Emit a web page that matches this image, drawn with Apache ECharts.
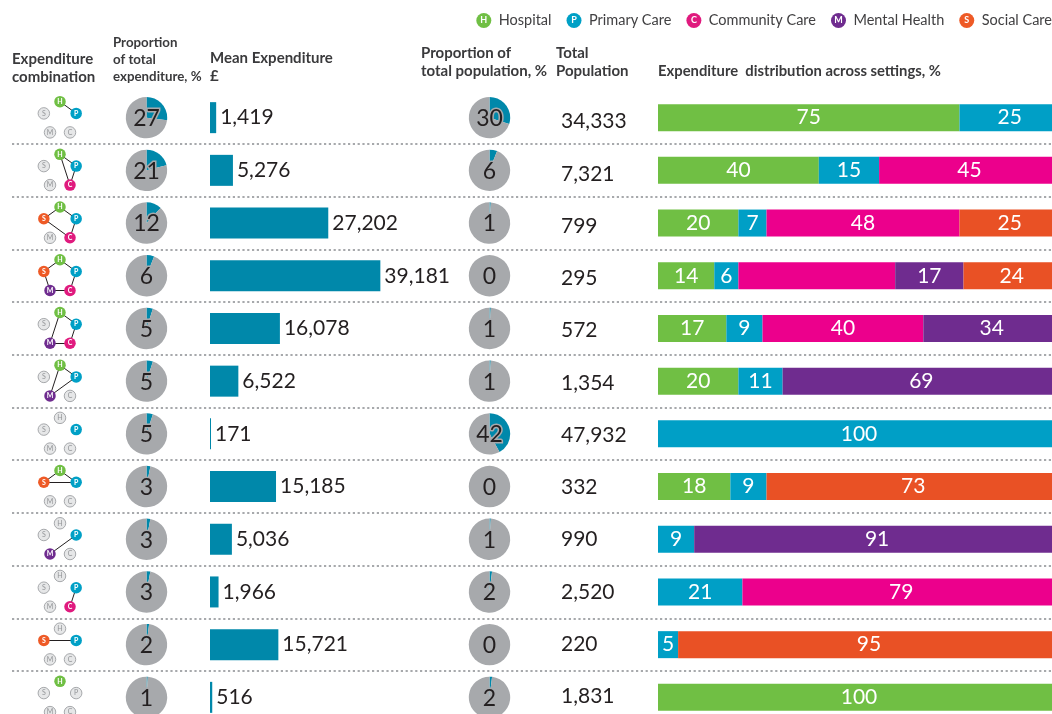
<!DOCTYPE html>
<html>
<head>
<meta charset="utf-8">
<style>
  html, body { margin: 0; padding: 0; background: #fff; }
  #chart { width: 1052px; height: 714px; }
</style>
<script src="https://cdn.jsdelivr.net/npm/echarts@6/dist/echarts.min.js"></script>
</head>
<body>
<div id="chart"></div>
<script>
// links between settings for each row, the letters not named stay grey
const combinations = ['HP', 'HPC', 'HPCS', 'HPCMS', 'HPCM', 'HPM', 'P', 'HPS', 'PM', 'PC', 'PS', 'H']
const combinationLinks = [
  ['HP'],
  ['HP', 'PC', 'HC'],
  ['SH', 'HP', 'PC', 'SC'],
  ['SH', 'HP', 'PC', 'CM', 'MS'],
  ['HP', 'PC', 'CM', 'MH'],
  ['HP', 'PM', 'MH'],
  [],
  ['SH', 'HP', 'SP'],
  ['PM'],
  ['PC'],
  ['SP'],
  []
]
const expenditureShare = [27, 21, 12, 6, 5, 5, 5, 3, 3, 3, 2, 1]
const meanExpenditure = [1419, 5276, 27202, 39181, 16078, 6522, 171, 15185, 5036, 1966, 15721, 516]
const populationShare = [30, 6, 1, 0, 1, 1, 42, 0, 1, 2, 0, 2]
const totalPopulation = [34333, 7321, 799, 295, 572, 1354, 47932, 332, 990, 2520, 220, 1831]

const hospital = [75, 40, 20, 14, 17, 20, null, 18, null, null, null, 100]
const primaryCare = [25, 15, 7, 6, 9, 11, 100, 9, 9, 21, 5, null]
const communityCare = [null, 45, 48, 39, 40, null, null, null, null, 79, null, null]
const mentalHealth = [null, null, null, 17, 34, 69, null, null, 91, null, null, null]
const socialCare = [null, null, 25, 24, null, null, null, 73, null, null, 95, null]

const settingNames = { H: 'Hospital', P: 'Primary Care', C: 'Community Care', M: 'Mental Health', S: 'Social Care' }
const settingColors = { H: '#70BF44', P: '#009FC6', C: '#EC008C', M: '#6F2C8F', S: '#E95125' }
const nodeColors = { H: '#70BF44', P: '#00A0C6', C: '#E01A7E', M: '#6F2C8F', S: '#EE5A26' }

const rowTop = 91.3
const rowHeight = 52.7
const rowCount = combinations.length
const rowY = i => rowTop + rowHeight * (i + 0.5)
const rowIds = combinations.map((c, i) => i)

const chart = echarts.init(document.getElementById('chart'))

// network icons, the five settings sit on a pentagon
const slots = ['H', 'P', 'C', 'M', 'S']
const nodeRadius = 17
const graphNodes = []
const graphLinks = []
combinations.forEach((combo, row) => {
  slots.forEach((letter, k) => {
    const angle = (-90 + 72 * k) * Math.PI / 180
    const active = combo.includes(letter)
    graphNodes.push({
      name: row + letter,
      value: [Math.cos(angle) * nodeRadius, row + Math.sin(angle) * nodeRadius / rowHeight + 0.5],
      symbolSize: 11.5,
      itemStyle: active
        ? { color: nodeColors[letter] }
        : { color: '#E6E7E8', borderColor: '#A7A9AC', borderWidth: 1 },
      label: {
        show: true,
        formatter: letter,
        fontSize: 7,
        fontWeight: active ? 'bold' : 'normal',
        color: active ? '#fff' : '#939598'
      }
    })
  })
  combinationLinks[row].forEach(pair => {
    graphLinks.push({ source: row + pair[0], target: row + pair[1] })
  })
})

function pieSeries (values, centerX) {
  return values.map((v, i) => ({
    type: 'pie',
    silent: true,
    animation: false,
    radius: 20.7,
    center: [centerX, rowY(i)],
    startAngle: 90,
    clockwise: true,
    labelLine: { show: false },
    data: [
      { value: v, itemStyle: { color: '#0088AA' }, label: { show: false } },
      {
        value: 100 - v,
        itemStyle: { color: '#A7A9AC' },
        label: {
          show: true,
          position: 'center',
          formatter: String(v),
          fontSize: 23,
          offset: [0, 1],
          color: '#231F20',
          textBorderColor: '#A7A9AC',
          textBorderWidth: 3
        }
      }
    ]
  }))
}

function stackedSeries (letter, values) {
  return {
    name: settingNames[letter],
    type: 'bar',
    stack: 'settings',
    xAxisIndex: 1,
    yAxisIndex: 1,
    barWidth: 27,
    silent: true,
    animation: false,
    itemStyle: { color: settingColors[letter] },
    label: {
      show: true,
      position: 'inside',
      fontSize: 21,
      color: '#fff',
      // the community care segment of row 4 has no number in the source
      formatter: p => (letter === 'C' && p.dataIndex === 3 ? '' : p.value)
    },
    data: values
  }
}

const legendRich = {}
slots.forEach(letter => {
  legendRich[letter] = {
    width: 15,
    height: 15,
    lineHeight: 15,
    align: 'center',
    borderRadius: 8,
    backgroundColor: nodeColors[letter],
    color: '#fff',
    fontSize: 9,
    fontWeight: 'bold'
  }
})

function header (text, left, top, fontSize) {
  return {
    text,
    left,
    top,
    padding: 0,
    textStyle: { fontSize, lineHeight: fontSize < 14 ? 17 : 18, fontWeight: 'bold', color: '#3a3a3c', fontFamily: 'Lato' }
  }
}

const hiddenAxis = { show: false }
const gridBase = { top: rowTop, height: rowHeight * rowCount, outerBoundsMode: 'none' }

chart.setOption({
  backgroundColor: '#fff',
  animation: false,
  textStyle: { fontFamily: 'Lato' },
  title: [
    header('Expenditure\ncombination', 12, 50, 15),
    header('Proportion\nof total\nexpenditure, %', 113, 34, 13.3),
    header('Mean Expenditure\n£', 210, 49, 15),
    header('Proportion of\ntotal population, %', 421, 44, 15),
    header('Total\nPopulation', 556, 44, 15),
    header('Expenditure  distribution across settings, %', 658, 62, 14.8)
  ],
  legend: {
    right: 0,
    top: 13,
    icon: 'circle',
    itemWidth: 0,
    itemHeight: 0,
    itemGap: 10,
    selectedMode: false,
    padding: 0,
    data: slots.map(l => settingNames[l]),
    formatter: name => {
      const letter = slots.find(l => settingNames[l] === name)
      return '{' + letter + '|' + letter + '}  ' + name
    },
    textStyle: { fontSize: 14.5, color: '#414042', rich: legendRich }
  },
  grid: [
    { ...gridBase, left: 210, width: 200 },
    { ...gridBase, left: 658, width: 402 },
    { ...gridBase, left: 30, width: 60, top: rowTop + 1 },
    { ...gridBase, left: 12, width: 1040 },
    // the population column runs on a slightly tighter pitch in the source
    { left: 561, width: 80, top: 95.5, height: 52.25 * rowCount, outerBoundsMode: 'none' }
  ],
  xAxis: [
    { type: 'value', gridIndex: 0, min: 0, max: 46000, ...hiddenAxis },
    { type: 'value', gridIndex: 1, min: 0, max: 100, ...hiddenAxis },
    { type: 'value', gridIndex: 2, min: -30, max: 30, ...hiddenAxis },
    { type: 'value', gridIndex: 3, min: 0, max: 1, ...hiddenAxis },
    { type: 'value', gridIndex: 4, min: 0, max: 1, ...hiddenAxis }
  ],
  yAxis: [
    { type: 'category', gridIndex: 0, inverse: true, data: combinations, ...hiddenAxis },
    { type: 'category', gridIndex: 1, inverse: true, data: combinations, ...hiddenAxis },
    { type: 'value', gridIndex: 2, inverse: true, min: 0, max: rowCount, ...hiddenAxis },
    {
      type: 'category',
      gridIndex: 3,
      inverse: true,
      data: rowIds,
      axisLine: { show: false },
      axisTick: { show: false },
      axisLabel: { show: false },
      splitLine: {
        show: true,
        interval: 0,
        showMinLine: false,
        showMaxLine: false,
        lineStyle: { color: '#A7A9AC', width: 2.2, type: [2.2, 2.6] }
      }
    },
    {
      type: 'category',
      gridIndex: 4,
      inverse: true,
      data: totalPopulation.map(v => v.toLocaleString('en-US')),
      axisLine: { show: false },
      axisTick: { show: false },
      splitLine: { show: false },
      axisLabel: { inside: true, margin: 0, interval: 0, fontSize: 21, color: '#231F20' }
    }
  ],
  series: [
    {
      type: 'graph',
      coordinateSystem: 'cartesian2d',
      xAxisIndex: 2,
      yAxisIndex: 2,
      layout: 'none',
      silent: true,
      animation: false,
      data: graphNodes,
      links: graphLinks,
      lineStyle: { color: '#231F20', width: 1, opacity: 1, curveness: 0 }
    },
    {
      type: 'bar',
      xAxisIndex: 0,
      yAxisIndex: 0,
      barWidth: 31,
      barMinHeight: 1,
      silent: true,
      animation: false,
      itemStyle: { color: '#0088AA' },
      label: {
        show: true,
        position: 'right',
        distance: 4,
        fontSize: 21,
        color: '#231F20',
        formatter: p => p.value.toLocaleString('en-US')
      },
      data: meanExpenditure
    },
    stackedSeries('H', hospital),
    stackedSeries('P', primaryCare),
    stackedSeries('C', communityCare),
    stackedSeries('M', mentalHealth),
    stackedSeries('S', socialCare),
    ...pieSeries(expenditureShare, 146.5),
    ...pieSeries(populationShare, 489.5)
  ]
})
</script>
</body>
</html>
